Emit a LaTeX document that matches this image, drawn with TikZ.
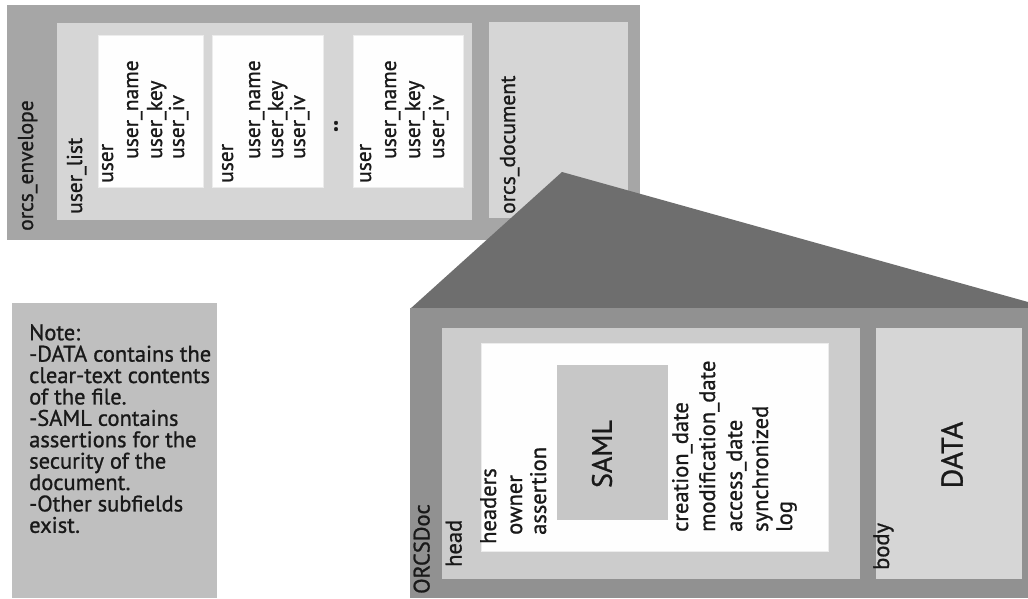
\documentclass[tikz,border=0pt]{standalone}
\usepackage{fontspec}
\setmainfont{PT Sans}[FakeBold=1]
\definecolor{envband}{gray}{0.65}
\definecolor{lightbox}{gray}{0.84}
\definecolor{whitebox}{gray}{0.995}
\definecolor{notebox}{gray}{0.75}
\definecolor{roof}{gray}{0.43}
\definecolor{band}{gray}{0.57}
\definecolor{headbox}{gray}{0.80}
\definecolor{databox}{gray}{0.84}
\definecolor{samlbox}{gray}{0.78}
\definecolor{txt}{gray}{0.1}
\begin{document}
\begin{tikzpicture}[x=1pt,y=-1pt,
  lbl/.style={rotate=90, anchor=base west, inner sep=0pt, text=txt, font=\fontsize{21.5}{23}\selectfont},
  lblb/.style={lbl, font=\fontsize{22.5}{24}\selectfont},
  big/.style={rotate=90, anchor=center, inner sep=0pt, text=txt},
  wbox/.style={fill=whitebox, draw=gray!15, line width=0.6pt}
]
\useasboundingbox (0,0) rectangle (1028,598);
\fill[white] (0,0) rectangle (1028,598);

% ---------- orcs_envelope ----------
\fill[envband] (7,5) rectangle (640,240);
\fill[lightbox] (57,23) rectangle (472,220);
\filldraw[wbox] (98,35) rectangle (203,187);
\filldraw[wbox] (212,35) rectangle (323,187);
\filldraw[wbox] (353,35) rectangle (463,187);
\fill[lightbox] (489,22) rectangle (628,218);

\node[lbl] (env) at (33,231) {orcs\_envelope};
\node[lbl] (ulist) at (82,214) {user\_list};

\node[lbl] (u1) at (113,183) {user};
\node[lbl] (u1n) at (138,159) {user\_name};
\node[lbl] (u1k) at (162,159) {user\_key};
\node[lbl] (u1i) at (184,159) {user\_iv};

\node[lbl] (u2) at (233,183) {user};
\node[lbl] (u2n) at (260,159) {user\_name};
\node[lbl] (u2k) at (283,159) {user\_key};
\node[lbl] (u2i) at (305,159) {user\_iv};

\node[big, font=\fontsize{24}{26}\selectfont\bfseries] (dots) at (336,126) {..};

\node[lbl] (u3) at (371,183) {user};
\node[lbl] (u3n) at (396,159) {user\_name};
\node[lbl] (u3k) at (420,159) {user\_key};
\node[lbl] (u3i) at (444,159) {user\_iv};

\node[lbl] (odoc) at (515,214) {orcs\_document};

% ---------- note ----------
\fill[notebox] (12,303) rectangle (217,598);
\node[anchor=north west, align=left, inner sep=0pt, text=txt,
      font=\fontsize{22.5}{21.4}\selectfont] (note) at (29,324)
  {Note:\\-DATA contains the\\clear-text contents\\of the file.\\-SAML contains\\assertions for the\\security of the\\document.\\-Other subfields\\exist.};

% ---------- ORCSDoc ----------
\fill[roof] (410,309) -- (562,172) -- (1028,302) -- (1028,309) -- cycle;
\fill[band] (410,308) rectangle (1028,598);
\fill[headbox] (442,328) rectangle (860,579);
\fill[databox] (876,328) rectangle (1022,579);
\filldraw[wbox] (481,343) rectangle (828,551);
\fill[samlbox] (557,365) rectangle (668,520);

\node[lblb] (orcsdoc) at (429.5,594) {ORCSDoc};
\node[lblb] (head) at (461.5,567) {head};
\node[lblb] (headers) at (496,544) {headers};
\node[lblb] (owner) at (522,535) {owner};
\node[lblb] (assertion) at (546,535) {assertion};
\node[big, font=\fontsize{28}{30}\selectfont] (saml) at (602,454) {SAML};
\node[lblb] (cdate) at (688,532) {creation\_date};
\node[lblb] (mdate) at (715,532) {modification\_date};
\node[lblb] (adate) at (742,532) {access\_date};
\node[lblb] (sync) at (768,532) {synchronized};
\node[lblb] (log) at (792,532) {log};
\node[lblb] (body) at (889,570) {body};
\node[big, font=\fontsize{30}{32}\selectfont] (data) at (952,455) {DATA};
\end{tikzpicture}
\end{document}
